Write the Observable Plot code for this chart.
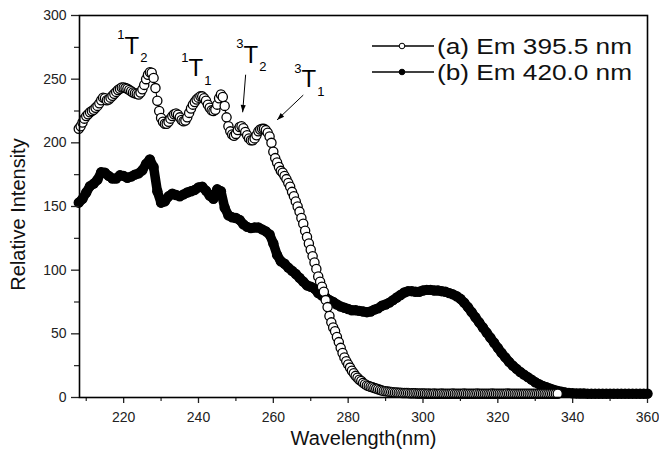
<!DOCTYPE html>
<html>
<head>
<meta charset="utf-8">
<script src="https://cdn.jsdelivr.net/npm/d3@7"></script>
<script src="https://cdn.jsdelivr.net/npm/@observablehq/plot@0.6"></script>
<style>
  body { margin: 0; background: #fff; }
  #wrap { position: relative; width: 659px; height: 458px; font-family: "Liberation Sans", Arial, sans-serif; }
  #legend { position: absolute; left: 0; top: 0; pointer-events: none; }
</style>
</head>
<body>
<div id="wrap"></div>
<script>
// ---- Data ----
const seriesNames = ["(a) Em 395.5 nm", "(b) Em 420.0 nm"];

// Series (a): open circles, wavelengths from 208 nm in 0.5 nm steps
const startA = 208, stepA = 0.5;
const intensityA = [
  211,213,216,219,221,222.5,224,225,226,227.5,229,231,233.5,235.5,235,233.5,234,235.5,237,238.5,
  240,241.5,242.5,243.5,243.5,243,242.5,241.5,240.5,239.5,239,238.5,238,239.5,242,245.5,250,253.5,255.5,255,
  251,243,233,225,219.5,216.5,215,215,216.5,219,221,222.5,223,222,220,218,217,217.5,220,223.5,
  227,230,232,234,235.5,236.5,236.5,235,233,230,227.5,225.5,225,226,230,235,238,236,229,220,
  213,209,206.5,205.5,207,210,212.5,213,211.5,208.5,206,203.5,202,202,203.5,206,209,210.5,211,211,
  210,208,205,200,193,188,184.5,181,178,176.5,174,171.5,168.5,165.5,161.5,158,154,150,146,141,
  136.5,131,126,121,116,111,106,101,95,91,87,83,76.5,71,64,59,55,52,47.5,43.5,
  39,35,31.5,28.5,26,23.5,21,19,17,15.5,14,13,11.5,10.5,9.5,9,8.5,8,7.5,7,
  6.5,6,5.5,5.2,5,4.8,4.6,4.4,4.2,4,4,3.8,3.8,3.6,3.6,3.5,3.5,3.4,3.4,3.3,
  3.3,3.2,3.2,3.2,3.1,3.1,3.0,3.1,3.0,3.0,3.1,3.0,2.9,3.0,3.1,3.0,3.0,2.9,3.0,3.0,
  3.1,3.0,3.0,2.9,3.0,3.0,3.1,3.0,3.0,3.0,2.9,3.0,3.0,3.1,3.0,3.0,3.0,2.9,3.0,3.0,
  3.0,3.1,3.0,3.0,3.0,2.9,3.0,3.0,3.0,3.1,3.0,3.0,3.0,3.0,2.9,3.0,3.0,3.0,3.0,3.0,
  3.0,3.0,3.0,3.0,3.0,3.0,3.0,3.0,3.0,3.0,3.0,3.0,3.0,3.0,3.0,3.0,3.0
];

// Series (b): filled circles, wavelengths from 208 nm in 1 nm steps
const startB = 208, stepB = 1;
const intensityB = [
  153,156,161,166,168,171,177,176.5,174,172,172,174.5,174,172.5,173.5,175,176,178.5,183.5,187,
  181,162,153,154,158,160,159,158,159.5,161,162,163,165,165.5,162.5,158.5,156,163.5,162,149,
  143,141.5,141,139.5,136,134,133,133.5,133.5,132,130.5,128,121,112,107,105,102,99.5,97,94,
  91,88,87,85.5,82,80,78.5,76.5,75,73,71.5,70.5,69.5,68.5,68.5,68,67.5,67,67.5,69,
  70,72,73,74.5,76.5,78.5,80.5,82.5,83.5,83.5,83,83,84,84.5,84.5,84,84,83.5,83,82,
  81,79.5,77.5,74.5,71,67,63,59,55,51,47,43,39,35,31.5,28,25,22.5,20,18,
  16,14,12,10.5,9,8,7,6,5.2,4.5,4,3.6,3.3,3.2,3.1,3.1,3,3,3,3,
  3,3,3,3,3,3,3,3,3,3,3,3,3
];

// Axis ticks
const xTicks = [220, 240, 260, 280, 300, 320, 340, 360];
const xMinor = [210, 230, 250, 270, 290, 310, 330, 350];
const yTicks = [0, 50, 100, 150, 200, 250, 300];
const yMinor = [25, 75, 125, 175, 225, 275];
const xDomain = [208.2, 360];
const yDomain = [0, 300];
const xLabel = "Wavelength(nm)";
const yLabel = "Relative Intensity";

// Peak annotations: superscript, letter, subscript, anchor (nm, intensity)
const peakLabels = [
  {sup: "1", main: "T", sub: "2", x: 222.2, y: 275.8},
  {sup: "1", main: "T", sub: "1", x: 239.3, y: 258.5},
  {sup: "3", main: "T", sub: "2", x: 254.0, y: 269.0},
  {sup: "3", main: "T", sub: "1", x: 269.5, y: 249.5}
];
const peakArrows = [
  {x1: 252.6, y1: 253.5, x2: 251.8, y2: 224.0},
  {x1: 268.0, y1: 237.5, x2: 261.0, y2: 218.0}
];

// ---- Build tables ----
const dataA = intensityA.map((v, i) => ({x: startA + i * stepA, y: v}));
const dataB = intensityB.map((v, i) => ({x: startB + i * stepB, y: v}));

const FONT = "Liberation Sans, Arial, Helvetica, sans-serif";

const chart = Plot.plot({
  width: 659,
  height: 458,
  marginLeft: 79,
  marginRight: 12,
  marginTop: 15,
  marginBottom: 61,
  style: {fontFamily: FONT, fontSize: "14px", color: "#222", background: "white", overflow: "visible"},
  x: {domain: xDomain},
  y: {domain: yDomain},
  marks: [
    Plot.line(dataB, {x: "x", y: "y", stroke: "black", strokeWidth: 9.5, strokeLinejoin: "round", strokeLinecap: "round"}),
    Plot.dot(dataB, {x: "x", y: "y", r: 5.2, fill: "black", stroke: "none"}),
    Plot.line(dataA, {x: "x", y: "y", stroke: "black", strokeWidth: 1}),
    Plot.dot(dataA, {x: "x", y: "y", r: 4.6, fill: "white", stroke: "black", strokeWidth: 1.3}),
    Plot.axisX(xTicks, {tickSize: 6, tickPadding: 9, fontSize: 14, label: null, strokeWidth: 1.3}),
    Plot.axisX(xMinor, {tickSize: 4, tickFormat: () => "", label: null, strokeWidth: 1.2}),
    Plot.axisY(yTicks, {tickSize: 8, tickPadding: 5, fontSize: 14, label: null, strokeWidth: 1.3}),
    Plot.axisY(yMinor, {tickSize: 5, tickFormat: () => "", label: null, strokeWidth: 1.2}),
    Plot.frame({stroke: "black", strokeWidth: 1.6}),
    Plot.text([xLabel], {text: d => d, frameAnchor: "bottom", textAnchor: "middle", dy: 41, fontSize: 20, fill: "#111", lineAnchor: "middle"}),
    Plot.text([yLabel], {text: d => d, frameAnchor: "left", textAnchor: "middle", dx: -61, dy: 8, rotate: -90, fontSize: 20, fill: "#111", lineAnchor: "middle"}),
    Plot.text(peakLabels, {x: "x", y: "y", text: "main", fontSize: 24, fill: "black", lineAnchor: "middle"}),
    Plot.text(peakLabels, {x: "x", y: "y", text: "sup", fontSize: 13, fill: "black", dx: -11, dy: -11, lineAnchor: "middle"}),
    Plot.text(peakLabels, {x: "x", y: "y", text: "sub", fontSize: 13, fill: "black", dx: 12, dy: 12, lineAnchor: "middle"}),
    Plot.link(peakArrows, {x1: "x1", y1: "y1", x2: "x2", y2: "y2", stroke: "black", strokeWidth: 1, markerEnd: "arrow"})
  ]
});

// solid triangular arrowheads like the reference
d3.select(chart).selectAll("marker").attr("overflow", "visible")
  .selectAll("path").attr("d", "M-11,-3.8L0,0L-11,3.8Z").attr("fill", "black").attr("stroke", "none");

const wrap = document.getElementById("wrap");
wrap.appendChild(chart);

// Legend overlay (inside plot frame, top-right)
const lg = d3.select(wrap).append("svg")
  .attr("id", "legend").attr("width", 659).attr("height", 120);
const rows = [{name: seriesNames[0], fill: "white"}, {name: seriesNames[1], fill: "black"}];
rows.forEach((r, i) => {
  const cy = 46 + i * 26;
  lg.append("line").attr("x1", 372).attr("x2", 434).attr("y1", cy).attr("y2", cy)
    .attr("stroke", "black").attr("stroke-width", 1.5);
  lg.append("circle").attr("cx", 402).attr("cy", cy).attr("r", 2.8)
    .attr("fill", r.fill).attr("stroke", "black").attr("stroke-width", 1);
  lg.append("text").attr("x", 437).attr("y", cy).attr("dy", "0.36em")
    .attr("font-family", FONT).attr("font-size", 22).attr("fill", "#111")
    .attr("textLength", 195).attr("lengthAdjust", "spacingAndGlyphs")
    .text(r.name);
});
</script>
</body>
</html>
